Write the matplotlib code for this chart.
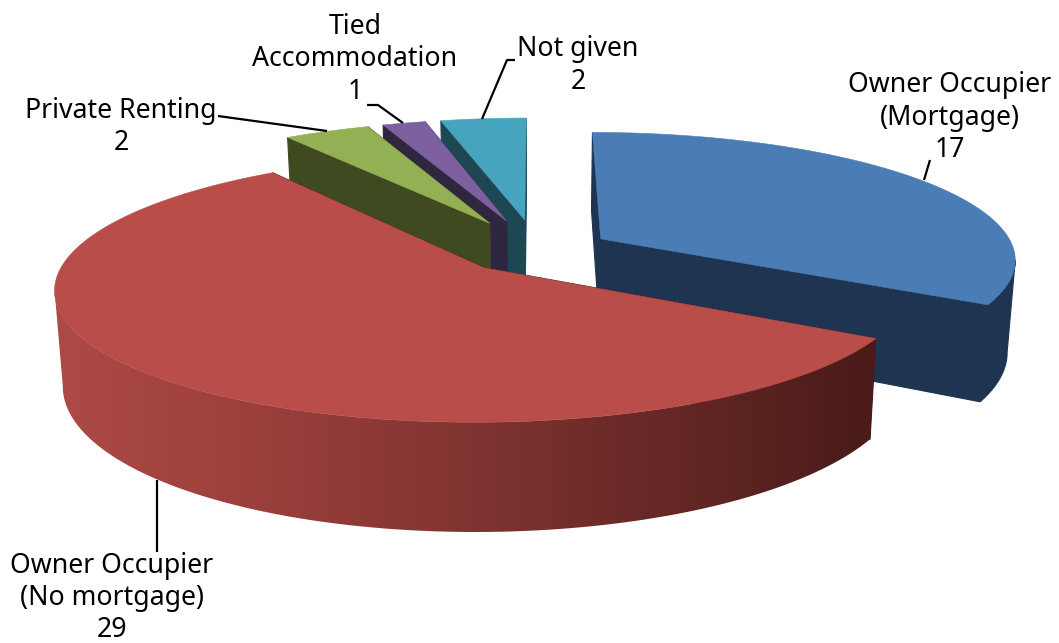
import numpy as np
import matplotlib
matplotlib.use("Agg")
import matplotlib.pyplot as plt
from matplotlib.patches import Polygon
from matplotlib.colors import to_rgb

categories = ["Owner Occupier\n(Mortgage)", "Owner Occupier\n(No mortgage)", "Private Renting", "Tied\nAccommodation", "Not given"]
values = [17, 29, 2, 1, 2]
explode = [0.18, 0.187, 0.25, 0.25, 0.25]
top_colors = ["#4A7CB6", "#B84D49", "#94B055", "#7D60A0", "#46A4BE"]
wall_colors = ["#1E3450", "#4A1B19", "#404A20", "#2F2640", "#1E4754"]
draw_order = [4, 3, 2, 0, 1]

label_pos = [(950, 117.5), (112, 598), (121, 127), (355, 59.5), (578, 65.5)]

CX, CY, A, B, K, DEPTH, SHRINK = 537, 250, 414, 125.5, 0.15, 91, 0.017

def project(u, v, z=0.0):
    u, v = np.asarray(u, float), np.asarray(v, float)
    w = 1 + K * v
    x = CX + A * u / w
    y = CY - B * v / w + DEPTH / w * z
    x = CX + (x - CX) * (1 - SHRINK * z)
    return np.column_stack([x, y])

red_stops_x = [60, 200, 400, 600, 870]
red_stops_c = ["#AC4A47", "#A1423F", "#8A3835", "#6E2C29", "#4A1B19"]

fig = plt.figure(figsize=(10.59, 6.43), dpi=100)
ax = fig.add_axes([0, 0, 1, 1])

fracs = np.array(values, float) / sum(values)
edges = np.concatenate([[0], np.cumsum(fracs)]) * 2 * np.pi

z = 1
for i in draw_order:
    a0, a1 = edges[i], edges[i + 1]
    mid = (a0 + a1) / 2
    ox, oy = explode[i] * np.sin(mid), explode[i] * np.cos(mid)
    t = np.linspace(a0, a1, max(int(np.degrees(a1 - a0)) * 2, 6))
    ru, rv = ox + np.sin(t), oy + np.cos(t)
    top = project(ru, rv, 0)
    bot = project(ru, rv, 1)
    ap_t = project([ox], [oy], 0)
    ap_b = project([ox], [oy], 1)
    for j in (0, -1):
        q = np.vstack([ap_t, top[j], bot[j], ap_b])
        ax.add_patch(Polygon(q, closed=True, fc=wall_colors[i], ec=wall_colors[i], lw=0.8, zorder=z))
        z += 1
    # outer wall: only the stretch of rim that runs along the front
    step = np.diff(top[:, 0]) < 0
    idx = np.where(np.concatenate([step, [step[-1]]]) | np.concatenate([[step[0]], step]))[0]
    if len(idx) > 1:
        wall = np.vstack([top[idx], bot[idx][::-1]])
        if i == 1:
            xs = np.arange(0, 1059)
            rgb = np.array([to_rgb(c) for c in red_stops_c])
            grad = np.stack([np.interp(xs, red_stops_x, rgb[:, c]) for c in range(3)], axis=1)[None, :, :]
            poly = Polygon(wall, closed=True, fc="none", ec="none", transform=ax.transData)
            ax.add_patch(poly)
            im = ax.imshow(grad, extent=(0, 1059, 643, 0), aspect="auto", zorder=z, interpolation="bilinear")
            im.set_clip_path(poly)
        else:
            ax.add_patch(Polygon(wall, closed=True, fc=wall_colors[i], ec=wall_colors[i], lw=0.8, zorder=z))
    z += 1
    ax.add_patch(Polygon(np.vstack([ap_t, top]), closed=True, fc=top_colors[i], ec=top_colors[i], lw=0.4, zorder=z))
    z += 1

ax.set_xlim(0, 1059)
ax.set_ylim(643, 0)
ax.axis("off")

leaders = [
    ([930, 924], [160, 180]),
    ([157, 157], [480, 552]),
    ([218, 327], [116, 131]),
    ([367, 378, 403], [105, 105, 123]),
    ([515, 507, 482], [60, 60, 119]),
]
for xs, ys in leaders:
    ax.plot(xs, ys, color="black", lw=1.6, solid_capstyle="butt", zorder=z)

for name, val, (x, y) in zip(categories, values, label_pos):
    ax.text(x, y, f"{name}\n{val}", ha="center", va="center", fontsize=19.2,
            family="Noto Sans", color="black", linespacing=1.2, zorder=z + 1)

fig.savefig("out.png", dpi=100)
